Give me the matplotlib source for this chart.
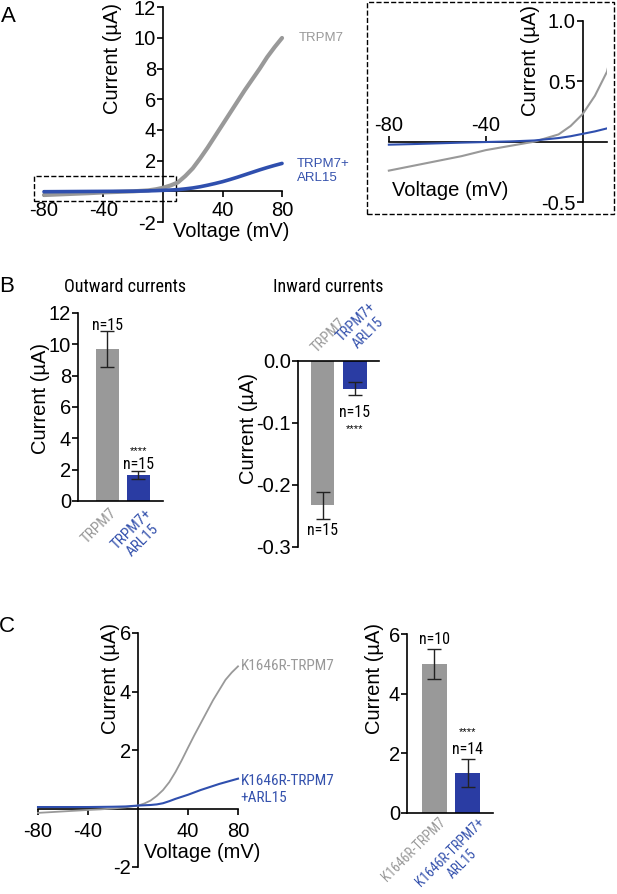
import matplotlib
matplotlib.use("Agg")
import matplotlib.pyplot as plt
from matplotlib import font_manager
from matplotlib.font_manager import FontProperties
from matplotlib.patches import Rectangle

plt.rcParams['font.family'] = ['Liberation Sans', 'DejaVu Sans']
plt.rcParams['axes.unicode_minus'] = False

# A: I-V curves (mV, uA)
v_a = [-80, -70, -60, -50, -40, -30, -20, -10, -5, 0, 5, 10, 15, 20, 25, 30,
       35, 40, 45, 50, 55, 60, 65, 70, 75, 80]
i_trpm7 = [-0.24, -0.20, -0.16, -0.12, -0.07, -0.035, 0.0, 0.06, 0.13, 0.23,
           0.38, 0.58, 1.0, 1.5, 2.15, 2.85, 3.6, 4.35, 5.1, 5.85, 6.6, 7.3,
           8.0, 8.75, 9.4, 10.0]
i_trpm7_arl15 = [-0.025, -0.02, -0.014, -0.008, -0.003, 0.002, 0.01, 0.03,
                 0.045, 0.065, 0.085, 0.11, 0.16, 0.22, 0.3, 0.4, 0.51, 0.63,
                 0.77, 0.92, 1.08, 1.24, 1.4, 1.55, 1.69, 1.82]

# B: bar summaries
groups_b = ['TRPM7', 'TRPM7+\nARL15']
out_mean = [9.7, 1.67]
out_err = [1.15, 0.26]
in_mean = [-0.233, -0.045]
in_err = [0.0225, 0.0105]
n_b = ['n=15', 'n=15']

# C: K1646R mutant
v_c = [-80, -70, -60, -50, -40, -30, -20, -10, -5, 0, 5, 10, 15, 20, 25, 30,
       35, 40, 45, 50, 55, 60, 65, 70, 75, 80]
i_k1646r = [-0.15, -0.125, -0.1, -0.075, -0.05, -0.03, 0.0, 0.04, 0.07, 0.1,
            0.17, 0.27, 0.43, 0.63, 0.9, 1.25, 1.65, 2.08, 2.5, 2.9, 3.3, 3.7,
            4.05, 4.4, 4.65, 4.86]
i_k1646r_arl15 = [0.05, 0.05, 0.05, 0.05, 0.05, 0.055, 0.06, 0.07, 0.085, 0.1,
                  0.11, 0.12, 0.14, 0.18, 0.25, 0.33, 0.4, 0.47, 0.55, 0.63,
                  0.7, 0.77, 0.84, 0.9, 0.96, 1.02]
groups_c = ['K1646R-TRPM7', 'K1646R-TRPM7+\nARL15']
c_mean = [5.0, 1.35]
c_err = [0.5, 0.47]
n_c = ['n=10', 'n=14']

GRAY = '#999999'
BLUE_LINE = '#2f4fae'
BLUE_BAR = '#2a3ca3'
BLUE_TXT = '#3552ad'


# regular-weight condensed face if one is installed
def find_narrow():
    pref = ['Liberation Sans Narrow', 'DejaVu Sans Condensed', 'Roboto Condensed',
            'Noto Sans Condensed', 'Open Sans Condensed']
    for p in pref:
        for f in font_manager.fontManager.ttflist:
            w = f.weight
            if isinstance(w, str):
                w = font_manager.weight_dict.get(w, 400)
            if f.name == p and f.style == 'normal' and 350 <= w <= 450:
                return f.fname
    return None


NARROW_FILE = find_narrow()


def narrow(size):
    if NARROW_FILE:
        return FontProperties(fname=NARROW_FILE, size=size)
    return FontProperties(family='Liberation Sans', size=size * 0.88)


TICK = 14.5
LAB = 14.5

W, H = 617, 894
fig = plt.figure(figsize=(W / 100, H / 100), dpi=100)


def place(left, right, top, bottom):
    return fig.add_axes([left / W, 1 - bottom / H, (right - left) / W, (bottom - top) / H])


def ftext(x, y, s, **kw):
    fig.text(x / W, 1 - y / H, s, **kw)


def cross_axes(ax, xb, yb):
    ax.spines['left'].set_position(('data', 0))
    ax.spines['bottom'].set_position(('data', 0))
    ax.spines['top'].set_visible(False)
    ax.spines['right'].set_visible(False)
    ax.spines['bottom'].set_bounds(*xb)
    ax.spines['left'].set_bounds(*yb)
    for s in ax.spines.values():
        s.set_linewidth(1.2)
    ax.tick_params(direction='out', length=4, width=1.2, labelsize=TICK, pad=1)
    ax.patch.set_alpha(0)


def bar_axes(ax):
    ax.spines['top'].set_visible(False)
    ax.spines['right'].set_visible(False)
    for s in ax.spines.values():
        s.set_linewidth(1.2)
    ax.tick_params(axis='y', direction='out', length=4, width=1.2, labelsize=TICK, pad=1)
    ax.tick_params(axis='x', length=0)


def color_ticks(ax):
    for lab, c in zip(ax.get_xticklabels(), [GRAY, BLUE_TXT]):
        lab.set_color(c)


# ---------------- A main
ax = place(41, 285, 7.3, 222)
ax.plot(v_a, i_trpm7, color=GRAY, lw=3, solid_capstyle='round', zorder=3)
ax.plot(v_a, i_trpm7_arl15, color=BLUE_LINE, lw=2.6, solid_capstyle='round', zorder=3)
ax.set_xlim(-82, 82)
ax.set_ylim(-2, 12)
cross_axes(ax, (-80, 80), (-2, 12))
ax.tick_params(axis='x', pad=3)
ax.set_xticks([-80, -40, 40, 80])
ax.set_yticks([-2, 2, 4, 6, 8, 10, 12])
ax.add_patch(Rectangle((-87, -0.63), 96, 1.63, fill=False, ls='--', lw=1,
                       ec='black', clip_on=False))
ax.text(91, 10.0, 'TRPM7', color=GRAY, fontsize=9.5, va='center')
ax.text(90, 1.3, 'TRPM7+\nARL15', color=BLUE_TXT, fontsize=9.5, va='center')
ftext(112, 58, 'Current (µA)', rotation=90, ha='center', va='center', fontsize=LAB)
ftext(231, 232, 'Voltage (mV)', ha='center', va='center', fontsize=LAB)
ftext(8, 17, 'A', ha='center', va='center', fontsize=16)

# ---------------- A inset
axi = place(384, 607, 21, 202)
axi.plot(v_a, i_trpm7, color=GRAY, lw=1.5, zorder=3)
axi.plot(v_a, i_trpm7_arl15, color=BLUE_LINE, lw=1.5, zorder=3)
axi.set_xlim(-82, 10)
axi.set_ylim(-0.5, 1.0)
axi.spines['left'].set_position(('data', 0))
axi.spines['top'].set_position(('data', 0))
axi.spines['bottom'].set_visible(False)
axi.spines['right'].set_visible(False)
axi.spines['top'].set_bounds(-80, 10)
for s in axi.spines.values():
    s.set_linewidth(1.2)
axi.xaxis.tick_top()
axi.tick_params(direction='out', length=4, width=1.2, labelsize=TICK, pad=1)
axi.set_xticks([-80, -40])
axi.set_yticks([-0.5, 0.5, 1.0])
axi.set_yticklabels(['-0.5', '0.5', '1.0'])
axi.patch.set_alpha(0)
ftext(531, 60, 'Current (µA)', rotation=90, ha='center', va='center', fontsize=LAB)
ftext(450, 190, 'Voltage (mV)', ha='center', va='center', fontsize=LAB)
fig.patches.append(Rectangle((367 / W, 1 - 214 / H), 247 / W, 212 / H, fill=False,
                             ls='--', lw=1, ec='black', transform=fig.transFigure))

# ---------------- B outward
axb1 = place(78, 163, 313, 501)
xb = [0, 1]
axb1.bar(xb, out_mean, width=0.74, color=[GRAY, BLUE_BAR])
axb1.errorbar(xb, out_mean, yerr=out_err, fmt='none', ecolor='#222222',
              elinewidth=1, capsize=5, capthick=1)
axb1.set_xlim(-0.95, 1.79)
axb1.set_ylim(0, 12)
bar_axes(axb1)
axb1.set_yticks(range(0, 13, 2))
axb1.set_xticks([0.05, 1.2])
axb1.set_xticklabels(groups_b, rotation=45, ha='right', rotation_mode='anchor',
                     fontproperties=narrow(11), multialignment='center')
color_ticks(axb1)
axb1.text(0, 11.2, n_b[0], ha='center', va='center', fontproperties=narrow(11.5))
axb1.text(1, 2.35, n_b[1], ha='center', va='center', fontproperties=narrow(11.5))
axb1.text(1, 3.2, '****', ha='center', va='center', fontsize=8)
ftext(125, 287, 'Outward currents', ha='center', va='center', fontproperties=narrow(13))
ftext(41, 398, 'Current (µA)', rotation=90, ha='center', va='center', fontsize=LAB)
ftext(7, 286, 'B', ha='center', va='center', fontsize=16)

# ---------------- B inward
axb2 = place(298, 379, 361, 547)
axb2.bar(xb, in_mean, width=0.72, color=[GRAY, BLUE_BAR])
axb2.errorbar(xb, in_mean, yerr=in_err, fmt='none', ecolor='#222222',
              elinewidth=1, capsize=5, capthick=1)
axb2.set_xlim(-0.78, 1.75)
axb2.set_ylim(-0.3, 0)
axb2.spines['bottom'].set_visible(False)
axb2.spines['right'].set_visible(False)
for s in axb2.spines.values():
    s.set_linewidth(1.2)
axb2.tick_params(axis='y', direction='out', length=4, width=1.2, labelsize=TICK, pad=1)
axb2.tick_params(axis='x', length=0, pad=4)
axb2.set_yticks([-0.3, -0.2, -0.1, 0.0])
axb2.set_yticklabels(['-0.3', '-0.2', '-0.1', '0.0'])
axb2.xaxis.tick_top()
axb2.set_xticks([-0.12, 1.02])
axb2.set_xticklabels(groups_b, rotation=45, ha='left', va='bottom',
                     rotation_mode='anchor', fontproperties=narrow(10.5),
                     multialignment='center')
color_ticks(axb2)
axb2.text(0, -0.273, n_b[0], ha='center', va='center', fontproperties=narrow(11.5))
axb2.text(1, -0.083, n_b[1], ha='center', va='center', fontproperties=narrow(11.5))
axb2.text(1, -0.11, '****', ha='center', va='center', fontsize=8)
ftext(328, 287, 'Inward currents', ha='center', va='center', fontproperties=narrow(13))
ftext(248, 428, 'Current (µA)', rotation=90, ha='center', va='center', fontsize=LAB)

# ---------------- C I-V
axc = place(35.5, 240.5, 633, 867)
axc.plot(v_c, i_k1646r, color=GRAY, lw=1.3, zorder=3)
axc.plot(v_c, i_k1646r_arl15, color=BLUE_LINE, lw=1.5, zorder=3)
axc.set_xlim(-82, 82)
axc.set_ylim(-2, 6)
cross_axes(axc, (-80, 80), (-2, 6))
axc.tick_params(axis='x', pad=6)
axc.set_xticks([-80, -40, 40, 80])
axc.set_yticks([-2, 2, 4, 6])
axc.text(82, 4.86, groups_c[0], color=GRAY, va='center', fontproperties=narrow(11))
axc.text(82, 0.65, 'K1646R-TRPM7\n+ARL15', color=BLUE_TXT, va='center',
         fontproperties=narrow(11))
ftext(110, 678, 'Current (µA)', rotation=90, ha='center', va='center', fontsize=LAB)
ftext(144, 853, 'Voltage (mV)', ha='left', va='center', fontsize=LAB)
ftext(7, 627, 'C', ha='center', va='center', fontsize=16)

# ---------------- C bars
axc2 = place(407, 493, 634, 813)
axc2.bar(xb, c_mean, width=0.76, color=[GRAY, BLUE_BAR])
axc2.errorbar(xb, c_mean, yerr=c_err, fmt='none', ecolor='#222222',
              elinewidth=1, capsize=5, capthick=1)
axc2.set_xlim(-0.83, 1.77)
axc2.set_ylim(0, 6)
bar_axes(axc2)
axc2.tick_params(axis='x', pad=1.5)
axc2.set_yticks([0, 2, 4, 6])
axc2.set_xticks([0.12, 1.3])
axc2.set_xticklabels(groups_c, rotation=45, ha='right', rotation_mode='anchor',
                     fontproperties=narrow(9.8), multialignment='center')
color_ticks(axc2)
axc2.text(0, 5.83, n_c[0], ha='center', va='center', fontproperties=narrow(11.5))
axc2.text(1, 2.12, n_c[1], ha='center', va='center', fontproperties=narrow(11.5))
axc2.text(1, 2.7, '****', ha='center', va='center', fontsize=8)
ftext(374, 678, 'Current (µA)', rotation=90, ha='center', va='center', fontsize=LAB)

fig.savefig('out.png', dpi=100)
